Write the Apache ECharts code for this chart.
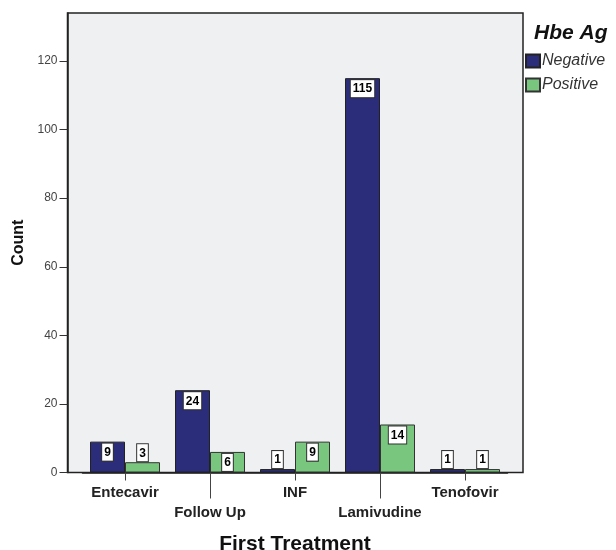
<!DOCTYPE html>
<html><head><meta charset="utf-8">
<script src="https://cdn.jsdelivr.net/npm/echarts@6/dist/echarts.min.js"></script>
<style>html,body{margin:0;padding:0;background:#fff}#c{width:616px;height:550px}</style>
</head><body><div id="c"></div>
<script>
const categories = ['Entecavir', 'Follow Up', 'INF', 'Lamivudine', 'Tenofovir'];
const negative = [9, 24, 1, 115, 1];
const positive = [3, 6, 9, 14, 1];
const seriesNames = ['Negative', 'Positive'];
const yTicks = [0, 20, 40, 60, 80, 100, 120];

const YMAX = 134;
const FONT = 'Arial, "Liberation Sans", sans-serif';

function items(vals) {
  return vals.map(v => ({
    value: v,
    label: v >= 5 ? { position: 'insideTop', distance: 2 } : { position: 'top', distance: 1 }
  }));
}
const labelStyle = {
  show: true, color: '#000', fontWeight: 'bold', fontSize: 12, fontFamily: FONT,
  backgroundColor: '#fff', borderColor: '#333', borderWidth: 1, padding: [3, 2, 2, 2]
};

const chart = echarts.init(document.getElementById('c'));
chart.setOption({
  animation: false,
  backgroundColor: '#fff',
  legend: {
    left: 525, top: 53, orient: 'vertical', itemWidth: 14, itemHeight: 13, itemGap: 8,
    icon: 'rect', padding: 0,
    data: seriesNames,
    textStyle: { fontStyle: 'italic', fontSize: 16, color: '#333', fontFamily: FONT, padding: [0, 0, 0, -3] }
  },
  graphic: [{
    type: 'text', left: 534, top: 23,
    style: { text: 'Hbe Ag', font: 'italic bold 21px Arial, "Liberation Sans", sans-serif', fill: '#111' }
  }],
  grid: [
    { left: 67.5, right: 93, top: 13, bottom: 77.5, outerBoundsMode: 'none', containLabel: false, show: true, backgroundColor: '#eff0f2', borderColor: '#222', borderWidth: 1.5 },
    { left: 82.5, width: 425, top: 13, bottom: 77.5, outerBoundsMode: 'none', containLabel: false }
  ],
  xAxis: [
    { gridIndex: 0, type: 'value', min: 0, max: 1, show: false },
    {
      gridIndex: 1, type: 'category', data: categories,
      axisLine: { show: true, lineStyle: { color: '#222', width: 1.5 } },
      axisTick: { show: true, alignWithLabel: true, length: 8, lineStyle: { color: '#444' }, interval: (i) => i % 2 === 0 },
      axisLabel: { interval: (i) => i % 2 === 0, margin: 13, color: '#222', fontWeight: 'bold', fontSize: 15, fontFamily: FONT },
      name: 'First Treatment', nameLocation: 'middle', nameGap: 61,
      nameTextStyle: { fontSize: 21, fontWeight: 'bold', color: '#111', fontFamily: FONT }
    },
    {
      gridIndex: 1, type: 'category', data: categories, position: 'bottom',
      axisLine: { show: false },
      axisTick: { show: true, alignWithLabel: true, length: 26, lineStyle: { color: '#444' }, interval: (i) => i % 2 === 1 },
      axisLabel: { interval: (i) => i % 2 === 1, margin: 33, color: '#222', fontWeight: 'bold', fontSize: 15, fontFamily: FONT }
    }
  ],
  yAxis: [
    {
      gridIndex: 0, type: 'value', min: 0, max: YMAX, interval: 20,
      axisLine: { show: true, lineStyle: { color: '#222', width: 1.5 } },
      axisTick: { show: true, length: 8, lineStyle: { color: '#333' }, customValues: yTicks },
      splitLine: { show: false },
      axisLabel: { margin: 10, color: '#444', fontSize: 12, fontFamily: FONT, customValues: yTicks },
      name: 'Count', nameLocation: 'middle', nameGap: 41, nameRotate: 90,
      nameTextStyle: { fontSize: 16, fontWeight: 'bold', color: '#111', fontFamily: FONT }
    },
    { gridIndex: 1, type: 'value', min: 0, max: YMAX, show: false }
  ],
  series: [
    {
      name: seriesNames[0], type: 'bar', xAxisIndex: 1, yAxisIndex: 1,
      data: items(negative), barWidth: 35, barGap: '0%',
      itemStyle: { color: '#2b2c7a', borderColor: '#222', borderWidth: 1 },
      label: labelStyle
    },
    {
      name: seriesNames[1], type: 'bar', xAxisIndex: 1, yAxisIndex: 1,
      data: items(positive), barWidth: 35, barGap: '0%',
      itemStyle: { color: '#79c77f', borderColor: '#333', borderWidth: 1 },
      label: labelStyle
    }
  ]
});
</script></body></html>
